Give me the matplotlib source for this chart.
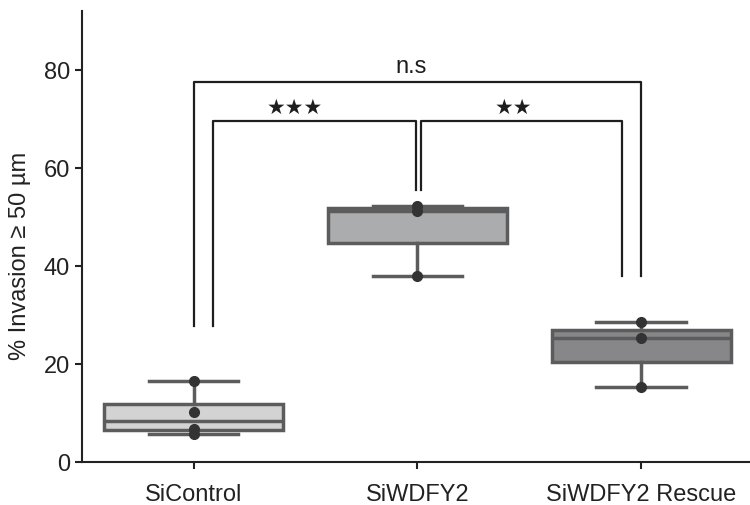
import numpy as np
import matplotlib
matplotlib.use('Agg')
from matplotlib import pyplot as plt

groups = ['SiControl', 'SiWDFY2', 'SiWDFY2 Rescue']
sicontrol = [5.7, 6.7, 10.2, 16.5]
siwdfy2 = [38.0, 51.3, 52.2]
rescue = [15.4, 25.4, 28.6]
data = [sicontrol, siwdfy2, rescue]
box_colors = ['#d3d3d4', '#abacae', '#87878a']

# significance brackets: (x1, x2, left leg bottom, right leg bottom, top, label, label x)
brackets = [
    (0.0, 2.0, 27.8, 37.9, 77.5, 'n.s', 0.97),
    (0.088, 0.994, 27.8, 55.6, 69.6, '★★★', 0.45),
    (1.015, 1.914, 55.6, 37.9, 69.6, '★★', 1.43),
]

plt.rcParams['font.family'] = ['Liberation Sans', 'DejaVu Sans']

fig = plt.figure(figsize=(7.5, 5.06), dpi=100)
ax = fig.add_axes([0.109, 0.085, 0.895, 0.891])

edge = '#5c5c5c'
bp = ax.boxplot(data, positions=range(len(groups)), widths=0.8, patch_artist=True,
                showfliers=False, whis=1.5,
                boxprops=dict(edgecolor=edge, linewidth=2.5),
                whiskerprops=dict(color=edge, linewidth=2.5),
                capprops=dict(color=edge, linewidth=2.5),
                medianprops=dict(color=edge, linewidth=2.5))
for patch, c in zip(bp['boxes'], box_colors):
    patch.set_facecolor(c)

for i, vals in enumerate(data):
    ax.plot([i] * len(vals), vals, 'o', color='#333333', markersize=7, zorder=5)

for x1, x2, y1, y2, top, label, lx in brackets:
    ax.plot([x1, x1, x2, x2], [y1, top, top, y2], color='#1e1e1e', linewidth=1.6, zorder=6)
    if label == 'n.s':
        ax.text(lx, top + 1.0, label, ha='center', va='bottom', fontsize=17, color='#1e1e1e')
    else:
        ax.text(lx, top + 0.9, label, ha='center', va='bottom', fontsize=15, color='#1e1e1e')

ax.set_xlim(-0.5, 2.5)
ax.set_ylim(0, 92)
ax.set_xticks(range(len(groups)))
ax.set_xticklabels(groups, fontsize=17)
ax.set_yticks([0, 20, 40, 60, 80])
ax.tick_params(axis='both', labelsize=17, width=1.5, length=5, color='#222222',
               labelcolor='#222222')
ax.tick_params(axis='x', pad=10)
ax.set_ylabel('% Invasion ≥ 50 µm', fontsize=17, color='#222222')
ax.yaxis.set_label_coords(-0.075, 0.46)
for s in ['top', 'right']:
    ax.spines[s].set_visible(False)
for s in ['left', 'bottom']:
    ax.spines[s].set_linewidth(1.5)
    ax.spines[s].set_color('#222222')

fig.savefig('out.png', dpi=100)
